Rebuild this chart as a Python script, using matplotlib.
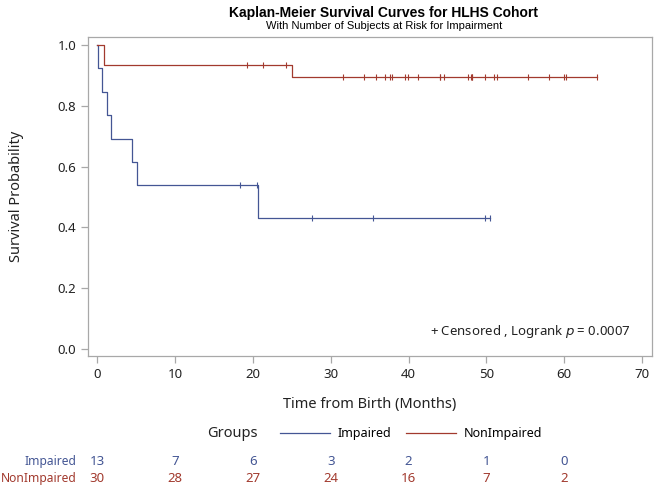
import matplotlib
matplotlib.use('Agg')
import matplotlib.pyplot as plt
import matplotlib.transforms as mtransforms
from matplotlib.lines import Line2D
import numpy as np

plt.rcParams['font.family'] = ['Noto Sans', 'DejaVu Sans']

# step curves (time, survival after the step)
imp_times = [0.0, 0.13, 0.65, 1.2, 1.8, 4.4, 5.1, 20.6, 50.5]
imp_surv = [1.0, 0.923, 0.846, 0.769, 0.692, 0.615, 0.538, 0.431, 0.431]
imp_cens = [18.3, 20.5, 27.6, 35.4, 49.8, 50.5]

non_times = [0.0, 0.85, 25.0, 64.2]
non_surv = [1.0, 0.933, 0.896, 0.896]
non_cens = [19.2, 21.3, 24.2, 31.6, 34.3, 35.8, 37.0, 37.6, 37.9, 39.6, 39.9,
            41.2, 44.0, 44.0, 44.5, 47.7, 48.05, 48.2, 48.2, 49.8,
            51.05, 51.35, 55.4, 58.0, 59.97, 60.27, 64.2]

risk_times = [0, 10, 20, 30, 40, 50, 60]
risk_imp = [13, 7, 6, 3, 2, 1, 0]
risk_non = [30, 28, 27, 24, 16, 7, 2]

blue = '#445694'
red = '#A23A2E'
gray = '#A8A8A8'

fig = plt.figure(figsize=(6.55, 4.87), dpi=100)
ax = fig.add_axes([0.1344, 0.269, 0.861, 0.655])


def step_y(times, surv, t):
    idx = np.searchsorted(times, t, side='right') - 1
    return np.array(surv)[idx]


ax.step(imp_times, imp_surv, where='post', color=blue, linewidth=0.9)
ax.step(non_times, non_surv, where='post', color=red, linewidth=0.9)
ax.plot(imp_cens, step_y(imp_times, imp_surv, imp_cens), linestyle='none',
        marker='|', markersize=5, markeredgewidth=0.8, color=blue)
ax.plot(non_cens, step_y(non_times, non_surv, non_cens), linestyle='none',
        marker='|', markersize=5, markeredgewidth=0.8, color=red)

ax.set_xlim(-1.2, 71.3)
ax.set_ylim(-0.023, 1.026)
ax.set_xticks(range(0, 71, 10))
ax.set_yticks([0.0, 0.2, 0.4, 0.6, 0.8, 1.0])
ax.set_yticklabels(['0.0', '0.2', '0.4', '0.6', '0.8', '1.0'])
for s in ax.spines.values():
    s.set_color(gray)
    s.set_linewidth(0.9)
ax.tick_params(colors=gray, labelcolor='#222222', labelsize=9.5, length=5, width=0.9)

ax.set_xlabel('Time from Birth (Months)', fontsize=10.5, color='#222222', labelpad=12)
ax.set_ylabel('Survival Probability', fontsize=10.5, color='#222222', labelpad=24)

ax.text(0.963, 0.078, '+ Censored , Logrank $p$ = 0.0007', transform=ax.transAxes,
        ha='right', va='center', fontsize=9.5, color='#222222')

fig.text(0.586, 0.974, 'Kaplan-Meier Survival Curves for HLHS Cohort',
         ha='center', va='center', fontsize=10, fontweight='bold',
         family='Liberation Sans')
fig.text(0.586, 0.946, 'With Number of Subjects at Risk for Impairment',
         ha='center', va='center', fontsize=8, family='Liberation Sans')

# legend
fig.text(0.355, 0.109, 'Groups', ha='center', va='center', fontsize=10.5,
         color='#222222')
handles = [Line2D([], [], color=blue, linewidth=0.9),
           Line2D([], [], color=red, linewidth=0.9)]
fig.legend(handles, ['Impaired', 'NonImpaired'], ncol=2, frameon=False,
           loc='center left', bbox_to_anchor=(0.4275, 0.109), fontsize=9,
           handlelength=4.0, columnspacing=1.1, handletextpad=0.64,
           borderpad=0, borderaxespad=0)

# at-risk table
trans = mtransforms.blended_transform_factory(ax.transData, fig.transFigure)
fig.text(0.117, 0.053, 'Impaired', ha='right', va='center', fontsize=8.7, color=blue)
fig.text(0.117, 0.018, 'NonImpaired', ha='right', va='center', fontsize=8.7, color=red)
for t, a, b in zip(risk_times, risk_imp, risk_non):
    ax.text(t, 0.053, str(a), transform=trans, ha='center', va='center',
            fontsize=9.5, color=blue)
    ax.text(t, 0.018, str(b), transform=trans, ha='center', va='center',
            fontsize=9.5, color=red)

fig.savefig('out.png', dpi=100)
